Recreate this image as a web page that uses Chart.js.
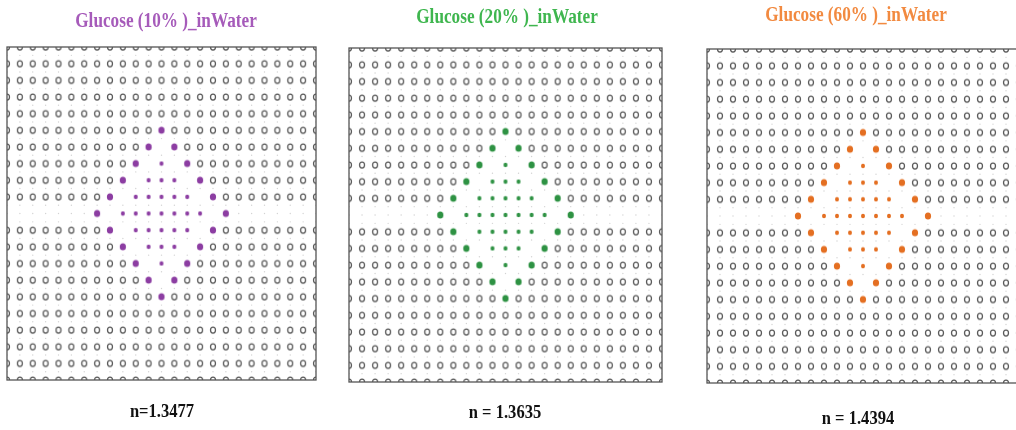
<!DOCTYPE html>
<html>
<head>
<meta charset="utf-8">
<script src="https://cdn.jsdelivr.net/npm/chart.js@4.4.1/dist/chart.umd.min.js"></script>
<style>
  html, body { margin: 0; padding: 0; background: #fff; overflow: hidden; }
  #wrap { position: relative; width: 1016px; height: 430px; overflow: hidden; background: #fff; }
  #wrap canvas { position: absolute; top: 0; }
</style>
</head>
<body>
<div id="wrap">
  <canvas id="p0"></canvas>
  <canvas id="p1"></canvas>
  <canvas id="p2"></canvas>
</div>
<script>
// ---- data ---------------------------------------------------------------
const panelTitles = ['Glucose (10% )_inWater', 'Glucose (20% )_inWater', 'Glucose (60% )_inWater'];
const indexLabels = ['n=1.3477', 'n = 1.3635', 'n = 1.4394'];

// cladding lattice: column and row indices (the central row carries no air holes)
const latticeCols = [-12, -11, -10, -9, -8, -7, -6, -5, -4, -3, -2, -1, 0, 1, 2, 3, 4, 5, 6, 7, 8, 9, 10, 11, 12];
const latticeRows = [-10, -9, -8, -7, -6, -5, -4, -3, -2, -1, 1, 2, 3, 4, 5, 6, 7, 8, 9, 10];

// analyte-filled core: outer ring of large holes
const coreLarge = [
  [0, -5],
  [-1, -4], [1, -4],
  [-2, -3], [2, -3],
  [-3, -2], [3, -2],
  [-4, -1], [4, -1],
  [-5, 0], [5, 0],
  [-4, 1], [4, 1],
  [-3, 2], [3, 2],
  [-2, 3], [2, 3],
  [-1, 4], [1, 4],
  [0, 5]
];
// analyte-filled core: inner diamond of small holes
const coreSmall = [
  [0, -3],
  [-1, -2], [0, -2], [1, -2],
  [-2, -1], [-1, -1], [0, -1], [1, -1], [2, -1],
  [-3, 0], [-2, 0], [-1, 0], [0, 0], [1, 0], [2, 0], [3, 0],
  [-2, 1], [-1, 1], [0, 1], [1, 1], [2, 1],
  [-1, 2], [0, 2], [1, 2],
  [0, 3]
];
const coreRadius = 5; // lattice sites inside this diamond are replaced by the core

// ---- styling / layout ---------------------------------------------------
const dotColors   = ['#8c3da2', '#2e9243', '#e46f22'];
const titleColors = ['#a65bba', '#3fb64f', '#f28a40'];

// page-coordinate boxes of each fibre cross-section
const panels = [
  { canvasLeft: 0,   canvasWidth: 340, area: { l: 7,   r: 316,  t: 47, b: 380 }, title: [166, 22], label: [162, 412] },
  { canvasLeft: 340, canvasWidth: 340, area: { l: 349, r: 662,  t: 48, b: 382 }, title: [507, 18], label: [505, 413] },
  { canvasLeft: 680, canvasWidth: 350, area: { l: 707, r: 1019, t: 49, b: 383 }, title: [856, 16], label: [858, 419] }
];
const H = 430;

function ellipseSprite(w, h, rx, ry, fill, stroke, lw) {
  const c = document.createElement('canvas');
  c.width = w; c.height = h;
  const g = c.getContext('2d');
  g.beginPath();
  g.ellipse(w / 2, h / 2, rx, ry, 0, 0, Math.PI * 2);
  if (fill) { g.fillStyle = fill; g.fill(); }
  if (stroke) { g.strokeStyle = stroke; g.lineWidth = lw; g.stroke(); }
  return c;
}

const ringSprite = ellipseSprite(8, 10, 2.5, 3.0, null, '#5a5a5a', 1.25);

// cladding holes (outside the core diamond)
const airHoles = [];
latticeRows.forEach(r => latticeCols.forEach(c => {
  if (Math.abs(c) + Math.abs(r) > coreRadius) airHoles.push({ x: c, y: r });
}));
// faint mesh nodes between rows and along the central row
const meshNodes = [];
latticeCols.forEach(c => {
  latticeRows.forEach(r => meshNodes.push({ x: c, y: r - Math.sign(r) * 0.5 }));
  if (Math.abs(c) > coreRadius) meshNodes.push({ x: c, y: 0 });
});

const framePlugin = {
  id: 'frame',
  afterDatasetsDraw(chart) {
    const { ctx, chartArea: a } = chart;
    ctx.save();
    ctx.strokeStyle = '#555';
    ctx.lineWidth = 1.3;
    ctx.strokeRect(a.left, a.top, a.right - a.left, a.bottom - a.top);
    ctx.restore();
  }
};

const panelText = {
  id: 'panelText',
  afterDraw(chart, args, o) {
    const ctx = chart.ctx;
    ctx.save();
    ctx.textAlign = 'center';
    ctx.textBaseline = 'middle';
    // title, set in a condensed bold serif
    ctx.fillStyle = o.titleColor;
    ctx.font = 'bold 20px "Liberation Serif", "Times New Roman", serif';
    ctx.translate(o.titleX, o.titleY);
    ctx.scale(0.86, 1);
    ctx.fillText(o.title, 0, 0);
    ctx.restore();
    ctx.save();
    ctx.textAlign = 'center';
    ctx.textBaseline = 'middle';
    ctx.fillStyle = '#111';
    ctx.font = 'bold 18px "Liberation Serif", "Times New Roman", serif';
    ctx.translate(o.labelX, o.labelY);
    ctx.scale(0.92, 1);
    ctx.fillText(o.label, 0, 0);
    ctx.restore();
  }
};

panels.forEach((p, i) => {
  const cv = document.getElementById('p' + i);
  cv.width = p.canvasWidth;
  cv.height = H;
  cv.style.left = p.canvasLeft + 'px';
  cv.style.width = p.canvasWidth + 'px';
  cv.style.height = H + 'px';

  const bigSprite = ellipseSprite(10, 10, 3.1, 3.6, dotColors[i], null, 0);
  const smallSprite = ellipseSprite(6, 6, 2.0, 2.3, dotColors[i], null, 0);

  new Chart(cv, {
    type: 'scatter',
    data: {
      datasets: [
        { label: 'mesh', data: meshNodes, pointStyle: 'circle', pointRadius: 0.7, borderWidth: 0,
          backgroundColor: 'rgba(110,110,110,0.3)', clip: 0 },
        { label: 'air holes', data: airHoles, pointStyle: ringSprite, pointRadius: 3, clip: 0 },
        { label: 'analyte (ring)', data: coreLarge.map(([x, y]) => ({ x, y })), pointStyle: bigSprite, pointRadius: 3, clip: 0 },
        { label: 'analyte (core)', data: coreSmall.map(([x, y]) => ({ x, y })), pointStyle: smallSprite, pointRadius: 2, clip: 0 }
      ]
    },
    options: {
      responsive: false,
      animation: false,
      events: [],
      layout: {
        padding: {
          left: p.area.l - p.canvasLeft,
          right: p.canvasLeft + p.canvasWidth - p.area.r,
          top: p.area.t,
          bottom: H - p.area.b
        }
      },
      scales: {
        x: { type: 'linear', min: -12, max: 12, display: false },
        y: { type: 'linear', min: -10, max: 10, display: false, reverse: true }
      },
      plugins: {
        legend: { display: false },
        tooltip: { enabled: false },
        panelText: {
          title: panelTitles[i], titleColor: titleColors[i],
          titleX: p.title[0] - p.canvasLeft, titleY: p.title[1],
          label: indexLabels[i],
          labelX: p.label[0] - p.canvasLeft, labelY: p.label[1]
        }
      }
    },
    plugins: [framePlugin, panelText]
  });
});
</script>
</body>
</html>
